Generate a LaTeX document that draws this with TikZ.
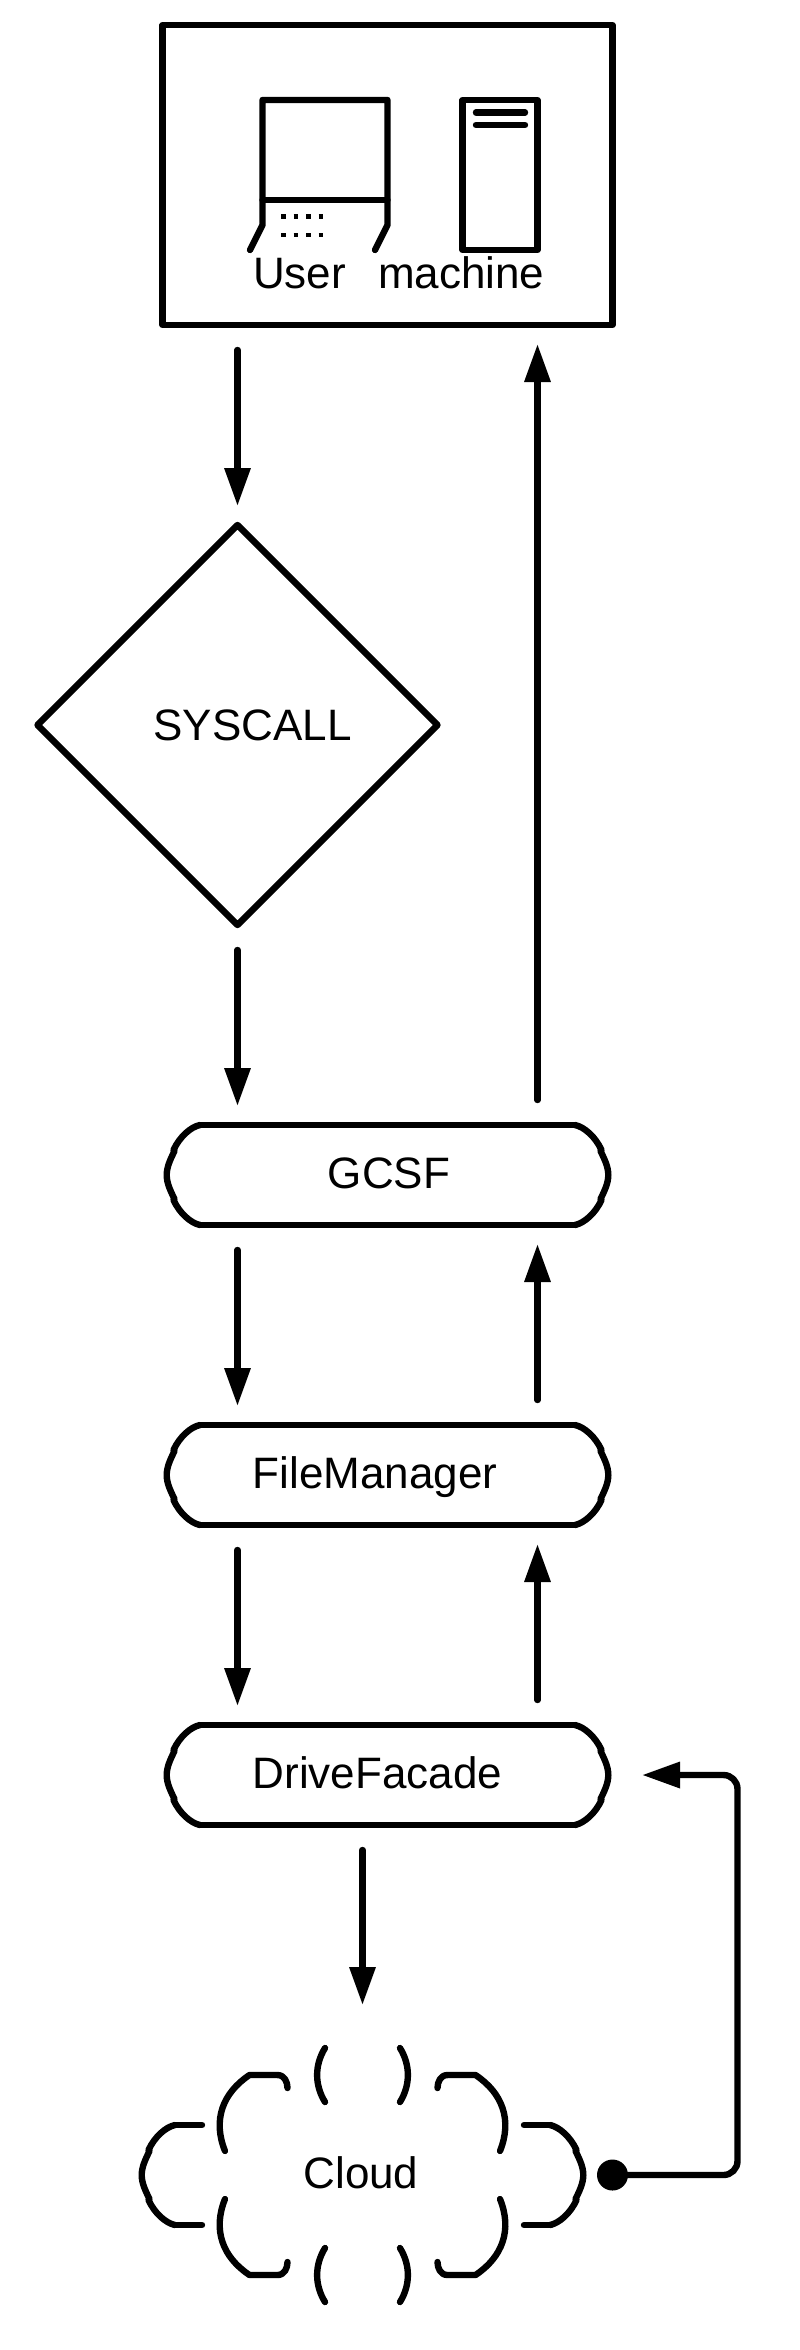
\documentclass[tikz,border=0pt]{standalone}
\usepackage{fontspec}
\setmainfont{Liberation Sans}
\usetikzlibrary{arrows.meta,shapes.geometric}

\tikzset{
    x=1pt, y=1pt,
    every node/.style={outer sep=0pt},
    outline/.style={line width=6.4pt, line cap=round, line join=round},
    flow/.style={outline, -{Triangle[length=38pt,width=25pt]}, shorten <=25pt, shorten >=19pt},
    label text/.style={font=\fontsize{44}{52}\selectfont, inner sep=0pt},
    termbox/.style={label text, minimum width=441pt, minimum height=100pt, text height=32pt, text depth=6pt},
    decision/.style={label text, diamond, draw, outline, aspect=1, minimum width=400pt, minimum height=400pt},
}

\newcommand{\sidecaps}[1]{
    \foreach \s in {1,-1} {
        \begin{scope}[shift={(#1.center)}, xscale=\s]
            \draw[outline] (187.5,50) .. controls (197,48) and (208,38) .. (214,25);
            \draw[outline] (187.5,-50) .. controls (197,-48) and (208,-38) .. (214,-25);
            \draw[outline] (213,24) .. controls (217,16) and (220.8,8) .. (220.8,0) .. controls (220.8,-8) and (217,-16) .. (213,-24);
        \end{scope}
    }
}
\newcommand{\termoutline}[1]{
    \draw[outline] ([xshift=-33pt]#1.north east) -- ([xshift=33pt]#1.north west);
    \draw[outline] ([xshift=-33pt]#1.south east) -- ([xshift=33pt]#1.south west);
    \sidecaps{#1}
}

\begin{document}
\begin{tikzpicture}
    \useasboundingbox (0,0) rectangle (800,-2350);

    \node[outline, draw, minimum width=450pt, minimum height=300pt] (frame) at (387.5,-175) {};
    \node[outline, draw, minimum width=75pt, minimum height=150pt] (tower) at (500,-175) {};
    \draw[outline] (476,-112.5) -- (525,-112.5);
    \draw[outline] (476,-125) -- (525,-125);

    \draw[outline] (250,-250) -- (262.5,-225) -- (262.5,-100) -- (387.5,-100) -- (387.5,-225) -- (375,-250);
    \draw[outline] (262.5,-200) -- (387.5,-200);
    \draw[line width=4.5pt, dash pattern=on 4.5pt off 8pt] (281,-216.5) -- (323,-216.5);
    \draw[line width=4.5pt, dash pattern=on 4.5pt off 8pt] (281,-235) -- (323,-235);

    \node[label text, anchor=base west] (userlabel) at (253,-288) {User};
    \node[label text, anchor=base west] (machinelabel) at (378,-288) {machine};

    \node[decision] (syscall) at (237.5,-725) {\hspace{30pt}SYSCALL};

    \node[termbox] (gcsf) at (387.5,-1175) {\hspace{3pt}GCSF};
    \node[termbox] (filemanager) at (387.5,-1475) {\hspace{-25pt}FileManager};
    \node[termbox] (drivefacade) at (387.5,-1775) {\hspace{-20pt}DriveFacade};
    \termoutline{gcsf}
    \termoutline{filemanager}
    \termoutline{drivefacade}

    \node[termbox, minimum height=250pt] (cloud) at (362.5,-2175) {\hspace{-3pt}Cloud};
    \draw[outline] (175,-2125) -- (202,-2125);
    \draw[outline] (175,-2225) -- (202,-2225);
    \draw[outline] (524,-2125) -- (551,-2125);
    \draw[outline] (524,-2225) -- (551,-2225);
    \sidecaps{cloud}
    \foreach \sx in {1,-1} {
        \foreach \sy in {1,-1} {
            \begin{scope}[shift={(cloud.center)}, xscale=\sx, yscale=\sy]
                \draw[outline] (137.5,24) .. controls (150,55) and (140,82) .. (113,100) -- (85,100) .. controls (78,100) and (75,93) .. (75,87);
                \draw[outline] (37.5,127) .. controls (48,110) and (48,90) .. (37.5,73);
            \end{scope}
        }
    }

    \node[circle, fill, minimum size=31pt, inner sep=0pt] (clouddot) at (612.5,-2175) {};
    \coordinate (feedbackturn) at (737.5,-1975);

    \draw[flow] (syscall.north |- frame.south) -- (syscall.north);
    \draw[flow] (syscall.south) -- (syscall.south |- gcsf.north);
    \draw[flow] (syscall.south |- gcsf.south) -- (syscall.south |- filemanager.north);
    \draw[flow] (syscall.south |- filemanager.south) -- (syscall.south |- drivefacade.north);
    \draw[flow, shorten >=45pt] (cloud.north |- drivefacade.south) -- (cloud.north);

    \draw[flow] (tower.south east |- gcsf.north) -- (tower.south east |- frame.south);
    \draw[flow] (tower.south east |- filemanager.north) -- (tower.south east |- gcsf.south);
    \draw[flow] (tower.south east |- drivefacade.north) -- (tower.south east |- filemanager.south);

    \draw[flow, rounded corners=14pt, shorten <=0pt, shorten >=34pt] (clouddot) -- (clouddot -| feedbackturn) -- (drivefacade -| feedbackturn) -- (drivefacade.east);
\end{tikzpicture}
\end{document}
